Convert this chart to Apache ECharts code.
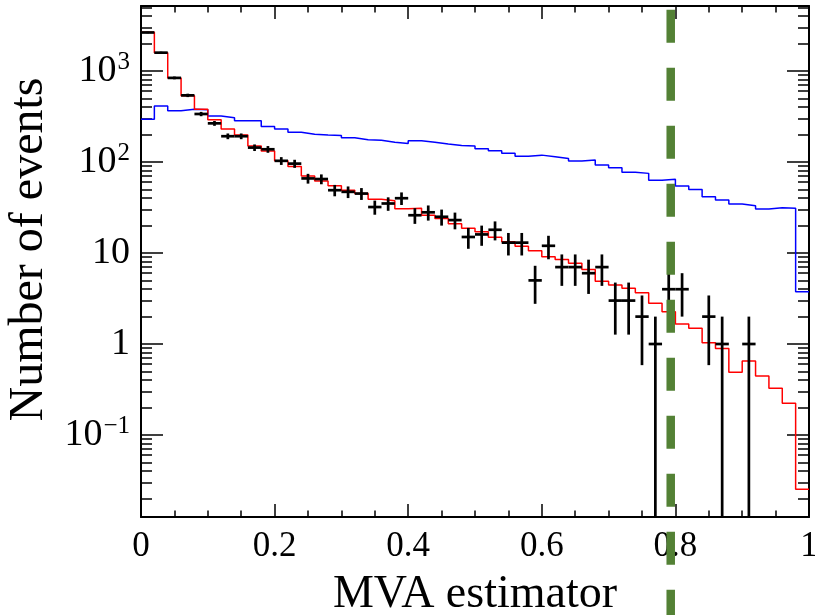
<!DOCTYPE html>
<html>
<head>
<meta charset="utf-8">
<script src="https://cdn.jsdelivr.net/npm/echarts@6/dist/echarts.min.js"></script>
<style>
html,body{margin:0;padding:0;background:#fff;}
#chart{width:815px;height:615px;}
</style>
</head>
<body>
<div id="chart"></div>
<script>
// ---------------- data ----------------
const N_BINS = 50;
const BIN_WIDTH = 0.02;
// bin lower edges (x categories)
const binEdges = Array.from({length: N_BINS}, (_, i) => +(i * BIN_WIDTH).toFixed(2));

// red histogram (background expectation)
const redValues = [2663, 1589, 838, 535, 379, 292, 230, 198, 150, 132,
  103, 89, 70, 62, 55, 49, 45, 39, 37.6, 30.7,
  31, 26, 24, 21, 18.7, 17.1, 14.9, 13.3, 11.9, 10.6,
  9.1, 8.5, 7.7, 6.6, 4.9, 4.45, 4.1, 3.66, 2.8, 2.26,
  1.66, 1.49, 1.03, 0.89, 0.49, 0.65, 0.445, 0.326, 0.223, 0.0253];

// blue histogram (signal)
const blueValues = [295, 412, 366, 380, 375, 320, 307, 284, 284, 245,
  230, 212, 202, 198, 195, 185, 176, 173, 165, 160,
  171, 165, 158, 152, 150, 140, 133, 124.5, 116, 119,
  114, 109, 102.6, 105, 92.7, 86.6, 77, 75, 63, 64.5,
  54.5, 50, 41.6, 38.2, 34.5, 33, 30.5, 31.5, 31, 3.76];

// black data points (event counts)
const dataCounts = [2650, 1590, 840, 540, 337, 266, 192, 192, 144, 138,
  103, 96, 66, 65, 49, 47, 45, 32, 35, 40,
  26, 28, 25, 23, 15, 16, 18, 13, 13, 5,
  12, 7, 7, 6, 7, 3, 3, 2, 1, 4,
  4, 0, 2, 1, 0, 1, 0, 0, 0, 0];

// cut line
const cutValue = [0.793, 4700];

// axes
const X_MIN = 0, X_MAX = 1, X_INTERVAL = 0.2;
const xTickLabels = ['0', '0.2', '0.4', '0.6', '0.8', '1'];
const Y_MIN = 0.01256, Y_MAX = 5180;
const yMajorTicks = [0.1, 1, 10, 100, 1000];
const yMajorLabels = ['10{sup|\u22121}', '1', '10', '10{sup|2}', '10{sup|3}'];
const yMinorTicks = [0.02, 0.03, 0.04, 0.05, 0.06, 0.07, 0.08, 0.09,
  0.2, 0.3, 0.4, 0.5, 0.6, 0.7, 0.8, 0.9,
  2, 3, 4, 5, 6, 7, 8, 9,
  20, 30, 40, 50, 60, 70, 80, 90,
  200, 300, 400, 500, 600, 700, 800, 900,
  2000, 3000, 4000, 5000];

// ---------------- build ----------------
const FONT = 'Liberation Serif';
function stepData(vals) {
  const d = vals.map((v, i) => [binEdges[i], v]);
  d.push([X_MAX, vals[vals.length - 1]]);
  return d;
}
const pointData = [];
dataCounts.forEach((n, i) => {
  if (n > 0) pointData.push([+(binEdges[i] + BIN_WIDTH / 2).toFixed(3), n]);
});

const chart = echarts.init(document.getElementById('chart'), null, {renderer: 'canvas'});

const baseY = {
  type: 'log', logBase: 10, min: Y_MIN, max: Y_MAX,
  splitLine: {show: false}, minorTick: {show: false}, minorSplitLine: {show: false}
};
const majorTickY = {show: true, inside: true, length: 22, customValues: yMajorTicks, lineStyle: {color: '#000', width: 1.5}};
const minorTickY = {show: true, inside: true, length: 11, customValues: yMinorTicks, lineStyle: {color: '#000', width: 1.5}};
const baseX = {
  type: 'value', min: X_MIN, max: X_MAX, interval: X_INTERVAL,
  splitLine: {show: false},
  axisLine: {show: true, lineStyle: {color: '#000', width: 2}},
  axisTick: {show: true, inside: true, length: 13, lineStyle: {color: '#000', width: 1.5}},
  minorTick: {show: true, splitNumber: 4, length: 6.5, lineStyle: {color: '#000', width: 1.5}}
};

const option = {
  backgroundColor: '#fff',
  animation: false,
  grid: {left: 141, right: 6, top: 6, bottom: 98, containLabel: false, outerBoundsMode: 'none'},
  xAxis: [
    Object.assign({}, baseX, {
      position: 'bottom',
      axisLabel: {
        show: true, color: '#000', fontFamily: FONT, fontSize: 35, margin: 12,
        formatter: (v) => xTickLabels[Math.round((v - X_MIN) / X_INTERVAL)]
      },
      name: 'MVA estimator', nameLocation: 'middle', nameGap: 55,
      nameTextStyle: {color: '#000', fontFamily: FONT, fontSize: 46}
    }),
    Object.assign({}, baseX, {position: 'top', axisLabel: {show: false}})
  ],
  yAxis: [
    Object.assign({}, baseY, {
      position: 'left',
      axisLine: {show: true, lineStyle: {color: '#000', width: 2}},
      axisTick: majorTickY,
      axisLabel: {
        show: true, customValues: yMajorTicks, color: '#000', fontFamily: FONT, fontSize: 38, margin: 11,
        formatter: (v) => {
          const k = yMajorTicks.findIndex(t => Math.abs(Math.log10(t) - Math.log10(v)) < 1e-6);
          return k >= 0 ? yMajorLabels[k] : '';
        },
        rich: {
          sup: {fontFamily: FONT, fontSize: 25, color: '#000', verticalAlign: 'bottom', padding: [0, 0, 18, 1]}
        }
      },
      name: 'Number of events', nameLocation: 'middle', nameGap: 77, nameRotate: 90,
      nameTextStyle: {color: '#000', fontFamily: FONT, fontSize: 48, padding: [0, 0, 0, 24]}
    }),
    Object.assign({}, baseY, {position: 'left', axisLine: {show: false}, axisTick: minorTickY, axisLabel: {show: false}}),
    Object.assign({}, baseY, {position: 'right', axisLine: {show: true, lineStyle: {color: '#000', width: 2}}, axisTick: majorTickY, axisLabel: {show: false}}),
    Object.assign({}, baseY, {position: 'right', axisLine: {show: false}, axisTick: minorTickY, axisLabel: {show: false}})
  ],
  series: [
    {
      name: 'signal', type: 'line', step: 'end', data: stepData(blueValues),
      showSymbol: false, symbol: 'none', xAxisIndex: 0, yAxisIndex: 0,
      lineStyle: {color: '#0000ff', width: 1.5}, z: 2
    },
    {
      name: 'background', type: 'line', step: 'end', data: stepData(redValues),
      showSymbol: false, symbol: 'none', xAxisIndex: 0, yAxisIndex: 0,
      lineStyle: {color: '#ff0000', width: 1.5}, z: 3
    },
    {
      name: 'data', type: 'custom', xAxisIndex: 0, yAxisIndex: 0, data: pointData, z: 4,
      clip: true,
      renderItem: (params, api) => {
        const xc = api.value(0), n = api.value(1);
        const e = Math.sqrt(n);
        const cs = params.coordSys;
        const pL = api.coord([xc - BIN_WIDTH / 2, n]);
        const pR = api.coord([xc + BIN_WIDTH / 2, n]);
        const pT = api.coord([xc, n + e]);
        const pB = (n - e > Y_MIN) ? api.coord([xc, n - e]) : [pT[0], cs.y + cs.height];
        const st = {stroke: '#000', lineWidth: 2.7};
        return {
          type: 'group',
          children: [
            {type: 'line', shape: {x1: pL[0], y1: pL[1], x2: pR[0], y2: pR[1]}, style: st},
            {type: 'line', shape: {x1: pT[0], y1: pT[1], x2: pB[0], y2: Math.min(pB[1], cs.y + cs.height)}, style: st}
          ]
        };
      }
    },
    {
      name: 'cut', type: 'custom', xAxisIndex: 0, yAxisIndex: 0, data: [cutValue], z: 10,
      clip: false, silent: true,
      renderItem: (params, api) => {
        const p = api.coord([api.value(0), api.value(1)]);
        return {
          type: 'line',
          shape: {x1: p[0], y1: p[1], x2: p[0], y2: api.getHeight() + 20},
          style: {stroke: '#538135', lineWidth: 8.5, lineDash: [33, 25], lineDashOffset: 0}
        };
      }
    }
  ]
};
chart.setOption(option);
</script>
</body>
</html>
